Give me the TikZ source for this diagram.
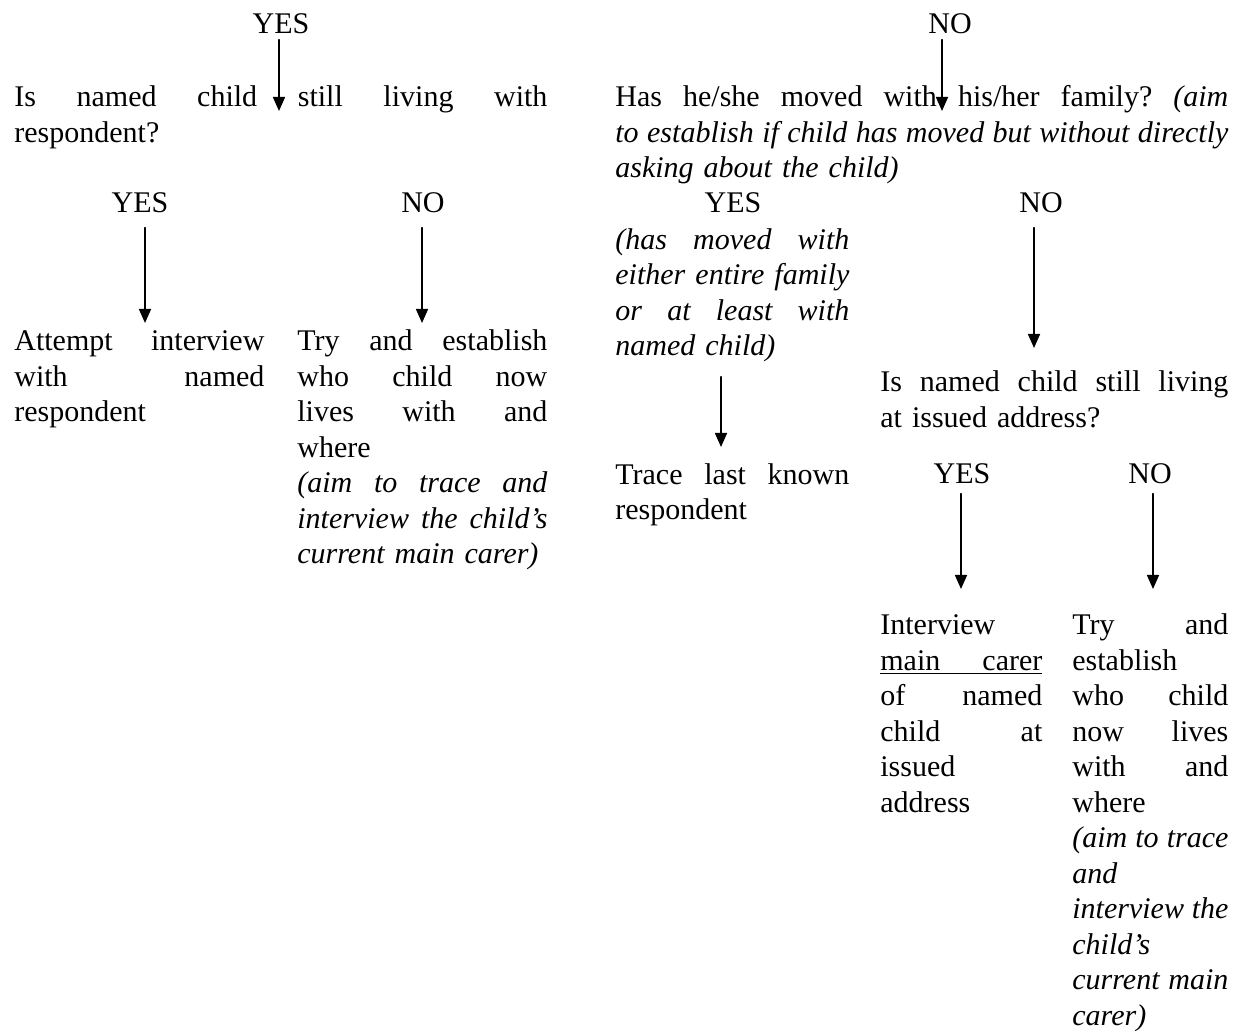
\documentclass[tikz,border=0pt]{standalone}
\usepackage{fontspec}
\setmainfont{Liberation Serif}
\usetikzlibrary{arrows.meta}
\newcommand{\jl}[1]{\makebox[\linewidth][s]{\spaceskip=.25em plus 1fil minus .1em\xspaceskip=\spaceskip #1}}
\begin{document}
\begin{tikzpicture}[x=0.5pt,y=-0.5pt,line cap=round,line join=round,font=\fontsize{15}{17.75}\selectfont,>={Triangle[length=7pt,width=6pt]},
	txt/.style={anchor=base west,inner sep=0pt,text width=#1},
	lbl/.style={anchor=base,inner sep=0pt},
	arr/.style={->,line width=0.8pt}]
	\useasboundingbox (0,0) rectangle (1233,1031);
	\path (279,111) coordinate (t0) (942,111) coordinate (t1)
	(145,323) coordinate (t2) (422,323) coordinate (t3)
	(1034,348) coordinate (t4) (721,447) coordinate (t5)
	(961,589) coordinate (t6) (1153,589) coordinate (t7);
	% labels
	\foreach \n/\x/\y/\t in {yes0/281/34/YES,no0/950/34/NO,yes1/140/213/YES,no1/423/213/NO,yes2/733/213/YES,no2/1041/213/NO,yes3/962/484/YES,no3/1150/484/NO}
		\node[lbl] (\n) at (\x,\y) {\t};
	% text blocks
	\node[txt=266.5pt] (q1) at (14,107) {\jl{Is named child still living with}\\respondent?};
	\node[txt=306.5pt] (q2) at (615,107) {\jl{Has he/she moved with his/her family? \textit{(aim}}\\\jl{\textit{to establish if child has moved but without directly}}\\\textit{asking about the child)}};
	\node[txt=125pt] (a1) at (14,351) {\jl{Attempt interview}\\\jl{with named}\\respondent};
	\node[txt=125pt] (a2) at (297,351) {\jl{Try and establish}\\\jl{who child now}\\\jl{lives with and}\\where\\\itshape\jl{(aim to trace and}\\\jl{interview the child's}\\current main carer)};
	\node[txt=117pt,font=\fontsize{15}{17.75}\selectfont\itshape] (yn) at (615,249.5) {\jl{(has moved with}\\\jl{either entire family}\\\jl{or at least with}\\named child)};
	\node[txt=117pt] (tr) at (615,484.5) {\jl{Trace last known}\\respondent};
	\node[txt=174pt] (q3) at (880,392) {\jl{Is named child still living}\\at issued address?};
	\node[txt=81pt] (a3) at (880,635) {Interview\\\underline{\jl{main carer}}\\\jl{of named}\\\jl{child at}\\issued\\address};
	\node[txt=78pt] (a4) at (1072,635) {\jl{Try and}\\establish\\\jl{who child}\\\jl{now lives}\\\jl{with and}\\where\\\itshape\jl{(aim to trace}\\and\\\jl{interview the}\\child's\\\jl{current main}\\carer)};
	% arrows
	\foreach \s/\t/\g in {yes0/t0/5,no0/t1/5,yes1/t2/14,no1/t3/14,no2/t4/14,yn/t5/14,yes3/t6/9,no3/t7/9}
		\draw[arr] (\t |- \s.south) ++(0,\g) -- (\t);
\end{tikzpicture}
\end{document}
